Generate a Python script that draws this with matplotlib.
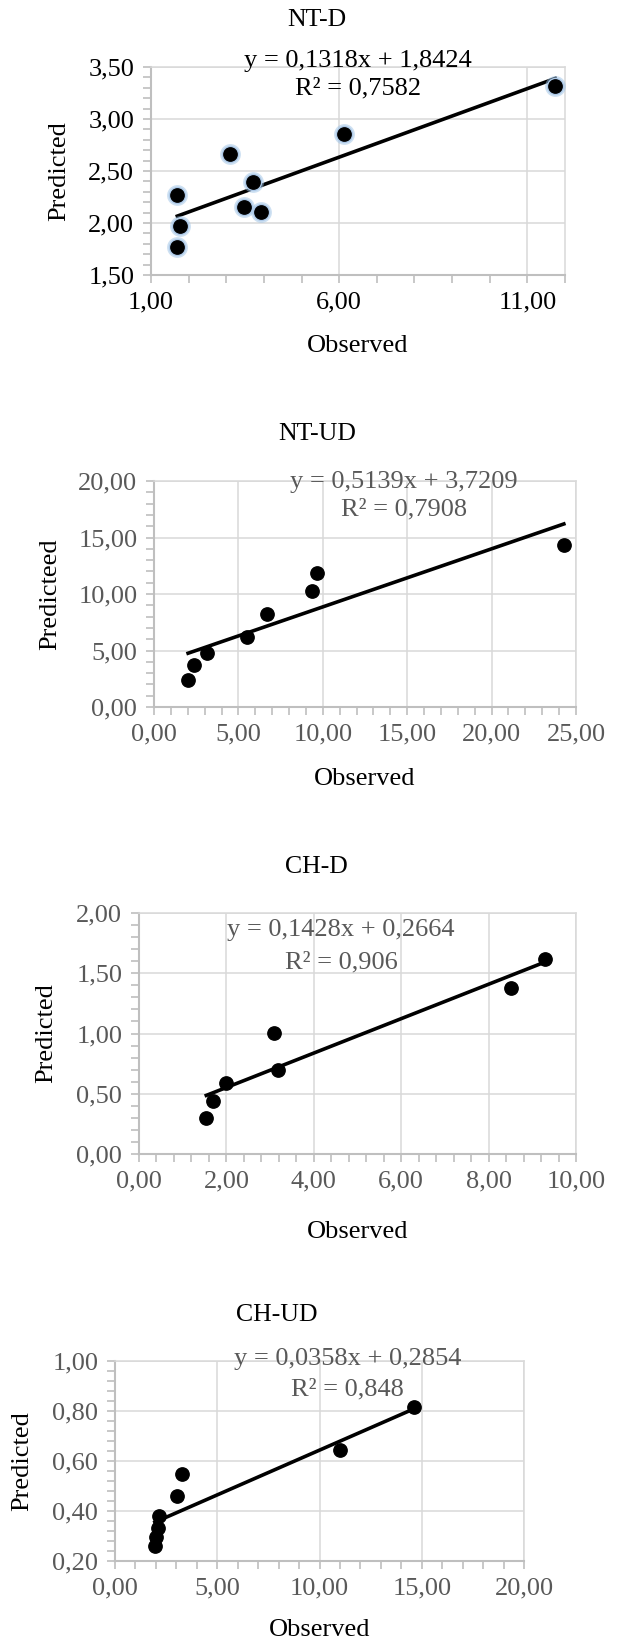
import matplotlib
matplotlib.use("Agg")
import matplotlib.pyplot as plt
from matplotlib.ticker import MultipleLocator, FuncFormatter

plt.rcParams["font.family"] = ["Liberation Serif", "DejaVu Serif"]

# NT-D
ntd_obs = [1.70, 1.78, 1.70, 3.09, 3.70, 3.47, 3.92, 6.12, 11.74]
ntd_pred = [2.27, 1.975, 1.767, 2.665, 2.399, 2.158, 2.107, 2.855, 3.317]
# NT-UD
ntud_obs = [2.02, 2.38, 3.15, 5.48, 6.68, 9.36, 9.67, 24.28]
ntud_pred = [2.36, 3.74, 4.77, 6.19, 8.22, 10.25, 11.90, 14.31]
# CH-D
chd_obs = [1.54, 1.69, 2.00, 3.08, 3.17, 8.52, 9.30]
chd_pred = [0.30, 0.443, 0.587, 1.003, 0.693, 1.38, 1.62]
# CH-UD
chud_obs = [1.95, 2.00, 2.08, 2.15, 3.03, 3.30, 10.98, 14.64]
chud_pred = [0.262, 0.297, 0.331, 0.381, 0.46, 0.548, 0.643, 0.815]

# slope, intercept, R2 as printed on the chart
fits = [(0.1318, 1.8424, "0,1318", "1,8424", "0,7582"),
        (0.5139, 3.7209, "0,5139", "3,7209", "0,7908"),
        (0.1428, 0.2664, "0,1428", "0,2664", "0,906"),
        (0.0358, 0.2854, "0,0358", "0,2854", "0,848")]

W, H = 618, 1642
fig = plt.figure(figsize=(W / 100, H / 100), dpi=100)


def box(l, r, t, b):
    return [l / W, 1 - b / H, (r - l) / W, (b - t) / H]


comma = FuncFormatter(lambda v, p: f"{v:.2f}".replace(".", ","))

panels = [
    dict(title="NT-D", x=ntd_obs, y=ntd_pred, fit=fits[0], pos=box(151, 565, 67, 275),
         xlim=(1, 12), xmaj=5, xoff=1, xmin=1, ylim=(1.5, 3.5), ymaj=0.5, ymin=0.1,
         ylabel="Predicted", col="black", glow=True,
         tpos=(0.40, 1.225), epos=(0.5, 1.027, 0.896), opos=(0.5, -0.34), ppos=(-0.222, 0.5)),
    dict(title="NT-UD", x=ntud_obs, y=ntud_pred, fit=fits[1], pos=box(154, 576, 481, 707),
         xlim=(0, 25), xmaj=5, xoff=0, xmin=1, ylim=(0, 20), ymaj=5, ymin=1,
         ylabel="Predicteed", col="#595959", glow=False,
         tpos=(0.386, 1.208), epos=(0.593, 0.994, 0.876), opos=(0.5, -0.317), ppos=(-0.245, 0.5)),
    dict(title="CH-D", x=chd_obs, y=chd_pred, fit=fits[2], pos=box(139, 576, 913, 1154),
         xlim=(0, 10), xmaj=2, xoff=0, xmin=0.4, ylim=(0, 2), ymaj=0.5, ymin=0.1,
         ylabel="Predicted", col="#595959", glow=False,
         tpos=(0.406, 1.191), epos=(0.462, 0.928, 0.796), opos=(0.5, -0.325), ppos=(-0.213, 0.5)),
    dict(title="CH-UD", x=chud_obs, y=chud_pred, fit=fits[3], pos=box(115, 524, 1361, 1561),
         xlim=(0, 20), xmaj=5, xoff=0, xmin=1, ylim=(0.2, 1.0), ymaj=0.2, ymin=0.04,
         ylabel="Predicted", col="#595959", glow=False,
         tpos=(0.396, 1.231), epos=(0.569, 1.008, 0.86), opos=(0.5, -0.347), ppos=(-0.226, 0.5)),
]

for p in panels:
    ax = fig.add_axes(p["pos"])
    ax.set_xlim(*p["xlim"])
    ax.set_ylim(*p["ylim"])
    ax.xaxis.set_major_locator(MultipleLocator(p["xmaj"], offset=p["xoff"]))
    ax.xaxis.set_minor_locator(MultipleLocator(p["xmin"]))
    ax.yaxis.set_major_locator(MultipleLocator(p["ymaj"]))
    ax.yaxis.set_minor_locator(MultipleLocator(p["ymin"]))
    ax.xaxis.set_major_formatter(comma)
    ax.yaxis.set_major_formatter(comma)
    ax.grid(True, which="major", color="#d9d9d9", linewidth=1.1)
    ax.set_axisbelow(True)
    for s in ["top", "right"]:
        ax.spines[s].set_color("#d9d9d9")
        ax.spines[s].set_linewidth(1.1)
    for s in ["left", "bottom"]:
        ax.spines[s].set_color("#bfbfbf")
        ax.spines[s].set_linewidth(1.5)
    ax.tick_params(which="both", direction="out", color="#bfbfbf", width=1.2,
                   labelsize=19, labelcolor=p["col"], pad=6)
    ax.tick_params(which="major", length=6)
    ax.tick_params(which="minor", length=6)

    a, b, sa, sb, r2 = p["fit"]
    x0, x1 = min(p["x"]), max(p["x"])
    ax.plot([x0, x1], [a * x0 + b, a * x1 + b], color="black", lw=2.6, zorder=3)
    if p["glow"]:
        ax.plot(p["x"], p["y"], "o", ms=15, color="#9dc3e6", alpha=0.5, mec="none", zorder=4)
        ax.plot(p["x"], p["y"], "o", ms=12.5, color="#adc9e8", mec="none", zorder=4)
    ax.plot(p["x"], p["y"], "o", ms=9.6, color="black", mec="black", zorder=5)

    ax.text(p["tpos"][0], p["tpos"][1], p["title"], transform=ax.transAxes,
            ha="center", va="center", fontsize=18.5, color="black")
    ax.text(p["epos"][0], p["epos"][1], f"y = {sa}x + {sb}", transform=ax.transAxes,
            ha="center", va="center", fontsize=19, color=p["col"], zorder=6)
    ax.text(p["epos"][0], p["epos"][2], f"R² = {r2}", transform=ax.transAxes,
            ha="center", va="center", fontsize=19, color=p["col"], zorder=6)
    ax.text(p["opos"][0], p["opos"][1], "Observed", transform=ax.transAxes,
            ha="center", va="center", fontsize=19, color="black")
    ax.text(p["ppos"][0], p["ppos"][1], p["ylabel"], transform=ax.transAxes,
            ha="center", va="center", fontsize=19, color="black", rotation=90)

fig.savefig("out.png", dpi=100)
